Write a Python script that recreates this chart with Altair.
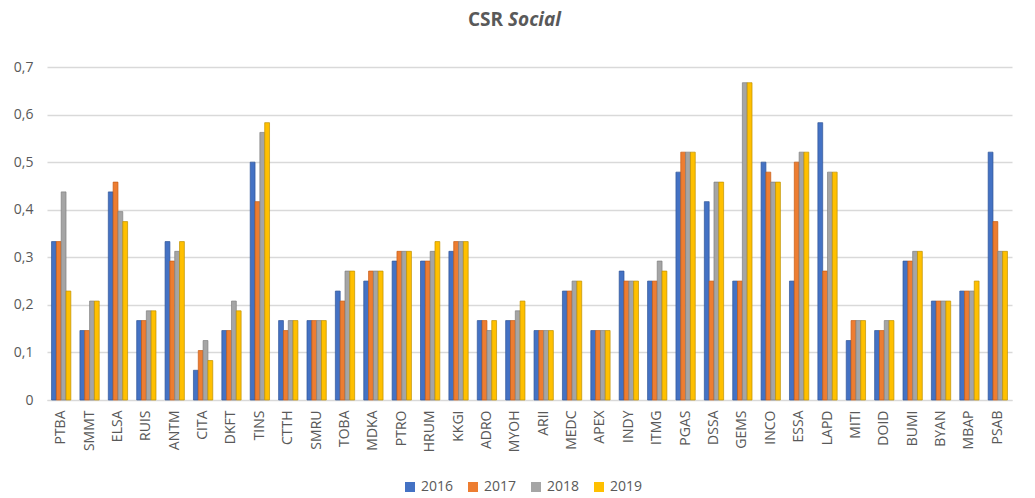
import altair as alt
import pandas as pd

companies = ["PTBA", "SMMT", "ELSA", "RUIS", "ANTM", "CITA", "DKFT", "TINS", "CTTH", "SMRU",
             "TOBA", "MDKA", "PTRO", "HRUM", "KKGI", "ADRO", "MYOH", "ARII", "MEDC", "APEX",
             "INDY", "ITMG", "PGAS", "DSSA", "GEMS", "INCO", "ESSA", "LAPD", "MITI", "DOID",
             "BUMI", "BYAN", "MBAP", "PSAB"]

v2016 = [0.333, 0.146, 0.4375, 0.167, 0.333, 0.0625, 0.146, 0.5, 0.167, 0.167,
         0.229, 0.25, 0.292, 0.292, 0.3125, 0.167, 0.167, 0.146, 0.229, 0.146,
         0.271, 0.25, 0.479, 0.417, 0.25, 0.5, 0.25, 0.583, 0.125, 0.146,
         0.292, 0.208, 0.229, 0.521]
v2017 = [0.333, 0.146, 0.458, 0.167, 0.292, 0.104, 0.146, 0.417, 0.146, 0.167,
         0.208, 0.271, 0.3125, 0.292, 0.333, 0.167, 0.167, 0.146, 0.229, 0.146,
         0.25, 0.25, 0.521, 0.25, 0.25, 0.479, 0.5, 0.271, 0.167, 0.146,
         0.292, 0.208, 0.229, 0.375]
v2018 = [0.4375, 0.208, 0.396, 0.1875, 0.3125, 0.125, 0.208, 0.5625, 0.167, 0.167,
         0.271, 0.271, 0.3125, 0.3125, 0.333, 0.146, 0.1875, 0.146, 0.25, 0.146,
         0.25, 0.292, 0.521, 0.458, 0.667, 0.458, 0.521, 0.479, 0.167, 0.167,
         0.3125, 0.208, 0.229, 0.3125]
v2019 = [0.229, 0.208, 0.375, 0.1875, 0.333, 0.083, 0.1875, 0.583, 0.167, 0.167,
         0.271, 0.271, 0.3125, 0.333, 0.333, 0.167, 0.208, 0.146, 0.25, 0.146,
         0.25, 0.271, 0.521, 0.458, 0.667, 0.458, 0.521, 0.479, 0.167, 0.167,
         0.3125, 0.208, 0.25, 0.3125]
years = ["2016", "2017", "2018", "2019"]
colors = ["#4472C4", "#ED7D31", "#A5A5A5", "#FFC000"]
strokes = ["#2F5597", "#C55A11", "#7F7F7F", "#BF9000"]

rows = []
for yr, vals in zip(years, [v2016, v2017, v2018, v2019]):
    for c, v in zip(companies, vals):
        rows.append({"company": c, "year": yr, "value": v})
df = pd.DataFrame(rows)

FONT = "Open Sans"
GREY = "#595959"

bars = alt.Chart(df).mark_bar(strokeWidth=0.7).encode(
    x=alt.X("company:N", sort=companies, title=None,
            scale=alt.Scale(paddingInner=0.32, paddingOuter=0.16),
            axis=alt.Axis(labelAngle=270, labelFontSize=14, labelColor=GREY, labelFont=FONT,
                          ticks=False, domain=True, domainColor="#d9d9d9", labelPadding=10,
                          labelAlign="right", labelBaseline="middle")),
    xOffset=alt.XOffset("year:N", sort=years),
    y=alt.Y("value:Q", title=None,
            scale=alt.Scale(domain=[0, 0.7], nice=False),
            axis=alt.Axis(values=[0, 0.1, 0.2, 0.3, 0.4, 0.5, 0.6, 0.7],
                          labelExpr="datum.value == 0 ? '0' : replace(format(datum.value, '.1f'), '.', ',')",
                          labelFontSize=14, labelColor=GREY, labelFont=FONT, ticks=False,
                          domain=False, gridColor="#d9d9d9", gridWidth=1.3, labelPadding=14)),
    color=alt.Color("year:N", sort=years, scale=alt.Scale(domain=years, range=colors),
                    legend=alt.Legend(title=None, orient="none", direction="horizontal",
                                      legendX=356, legendY=413, symbolType="square",
                                      symbolSize=100, symbolStrokeWidth=0, labelFontSize=14,
                                      labelColor=GREY, labelFont=FONT, columnPadding=12,
                                      labelOffset=4)),
    stroke=alt.Stroke("year:N", sort=years, scale=alt.Scale(domain=years, range=strokes), legend=None),
)

t1 = alt.Chart(pd.DataFrame({"t": ["CSR"]})).mark_text(
    font=FONT, fontSize=19, fontWeight="bold", color=GREY, align="right", baseline="middle"
).encode(text="t:N", x=alt.value(456), y=alt.value(-47))
t2 = alt.Chart(pd.DataFrame({"t": ["Social"]})).mark_text(
    font=FONT, fontSize=19, fontWeight="bold", fontStyle="italic", color=GREY, align="left",
    baseline="middle"
).encode(text="t:N", x=alt.value(461), y=alt.value(-47))

chart = alt.layer(bars, t1, t2).properties(
    width=965, height=333,
    autosize=alt.AutoSizeParams(type="none"),
    padding={"left": 47, "top": 67, "right": 23, "bottom": 98},
).configure_view(stroke=None)

chart.save("out.html", embed_options={"renderer": "svg", "actions": False})
